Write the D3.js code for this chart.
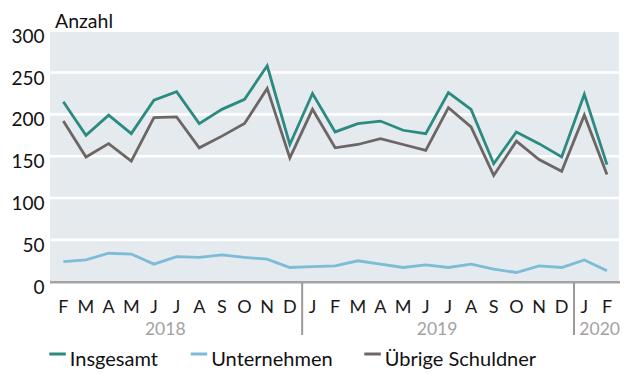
<!DOCTYPE html>
<html>
<head>
<meta charset="utf-8">
<script src="https://cdn.jsdelivr.net/npm/d3@7"></script>
<style>
  html, body { margin: 0; padding: 0; background: #fff; }
  svg { display: block; font-family: Lato, "Noto Sans", sans-serif; }
</style>
</head>
<body>
<svg id="chart" width="635" height="374"></svg>
<script>
// Monthly counts, Feb 2018 – Feb 2020
const periods = ["2018-02","2018-03","2018-04","2018-05","2018-06","2018-07","2018-08","2018-09","2018-10","2018-11","2018-12",
                 "2019-01","2019-02","2019-03","2019-04","2019-05","2019-06","2019-07","2019-08","2019-09","2019-10","2019-11","2019-12",
                 "2020-01","2020-02"];
const monthLabels = ["F","M","A","M","J","J","A","S","O","N","D","J","F","M","A","M","J","J","A","S","O","N","D","J","F"];
const insgesamt    = [215,175,199,177,217,227,189,206,218,258,164,225,179,189,192,181,177,226,206,141,179,165,149,224,140];
const unternehmen  = [24,26,34,33,21,30,29,32,29,27,17,18,19,25,21,17,20,17,21,15,11,19,17,26,13];
const uebrige      = [192,149,165,144,196,197,160,174,189,231,148,206,160,164,171,164,157,208,185,127,168,146,132,199,128];
const yTicks = [0,50,100,150,200,250,300];

const seriesNames  = ["Insgesamt","Unternehmen","Übrige Schuldner"];
const seriesColors = ["#2b8a81","#7dbcd6","#6c6664"];
const seriesValues = [insgesamt, unternehmen, uebrige];

const svg = d3.select("#chart");
const plot = { left: 50, right: 619, top: 32, bottom: 282 };

const x = d3.scaleBand().domain(d3.range(periods.length)).range([52, 618.3]).padding(0);
const step = x.step();
const cx = i => x(i) + x.bandwidth() / 2;
const y = d3.scaleLinear().domain([0, 300]).range([281.7, 30.7]);

// panel background
svg.append("rect")
  .attr("x", plot.left).attr("y", plot.top)
  .attr("width", plot.right - plot.left).attr("height", plot.bottom - plot.top)
  .attr("fill", "#e5eaee");

// horizontal gridlines
svg.append("g").selectAll("line")
  .data(yTicks.filter(t => t > 0 && t < 300))
  .join("line")
  .attr("x1", plot.left).attr("x2", plot.right)
  .attr("y1", d => y(d)).attr("y2", d => y(d))
  .attr("stroke", "#fff").attr("stroke-width", 2.6);

// y tick labels
svg.append("g").selectAll("text")
  .data(yTicks)
  .join("text")
  .attr("x", 44.5).attr("y", d => y(d) + 12)
  .attr("text-anchor", "end")
  .attr("font-size", 19).attr("fill", "#111")
  .text(d => d);

svg.append("text")
  .attr("x", 55).attr("y", 27.5)
  .attr("font-size", 19.5).attr("fill", "#111")
  .text("Anzahl");

// series lines
const line = d3.line().x((d, i) => cx(i)).y(d => y(d));
svg.append("g").selectAll("path")
  .data(seriesValues)
  .join("path")
  .attr("d", d => line(d))
  .attr("fill", "none")
  .attr("stroke", (d, i) => seriesColors[i])
  .attr("stroke-width", 2.8)
  .attr("stroke-linejoin", "miter");

// baseline axis
svg.append("line")
  .attr("x1", plot.left).attr("x2", plot.right + 1)
  .attr("y1", y(0) + 0.6).attr("y2", y(0) + 0.6)
  .attr("stroke", "#a3a3a3").attr("stroke-width", 2.6);

// month labels
svg.append("g").selectAll("text")
  .data(monthLabels)
  .join("text")
  .attr("x", (d, i) => cx(i)).attr("y", 313)
  .attr("text-anchor", "middle")
  .attr("font-size", 18).attr("fill", "#1a1a1a")
  .text(d => d);

// year groups: separators and centred year labels
const yearGroups = d3.groups(periods.map((p, i) => ({ year: +p.slice(0, 4), month: +p.slice(5, 7), i })), d => d.year);
const yearSpans = yearGroups.map(([year, ms]) => {
  const first = ms[0], last = ms[ms.length - 1];
  const start = x(first.i) - (first.month - 1) * step;
  const end = Math.min(x(last.i) + step + (12 - last.month) * step, x.range()[1]);
  return { year, start, end, firstIndex: first.i };
});

svg.append("g").selectAll("line")
  .data(yearSpans.slice(1))
  .join("line")
  .attr("x1", d => x(d.firstIndex) + 1).attr("x2", d => x(d.firstIndex) + 1)
  .attr("y1", y(0) + 1).attr("y2", 335)
  .attr("stroke", "#9a9a9a").attr("stroke-width", 2);

svg.append("g").selectAll("text")
  .data(yearSpans)
  .join("text")
  .attr("x", d => (d.start + d.end) / 2 + (d.end - d.start < 3 * step ? 4 : 0))
  .attr("y", 334.5)
  .attr("text-anchor", "middle")
  .attr("font-size", 17.5).attr("fill", "#a2a2a2")
  .text(d => d.year);

// legend
const legendX = [49.3, 190.7, 364.3];
const legend = svg.append("g").selectAll("g")
  .data(seriesNames)
  .join("g")
  .attr("transform", (d, i) => `translate(${legendX[i]},0)`);
legend.append("line")
  .attr("x1", 0).attr("x2", 16.5)
  .attr("y1", 354).attr("y2", 354)
  .attr("stroke", (d, i) => seriesColors[i]).attr("stroke-width", 3);
legend.append("text")
  .attr("x", 20.5).attr("y", 366)
  .attr("font-size", 20).attr("fill", "#111")
  .text(d => d);
</script>
</body>
</html>
